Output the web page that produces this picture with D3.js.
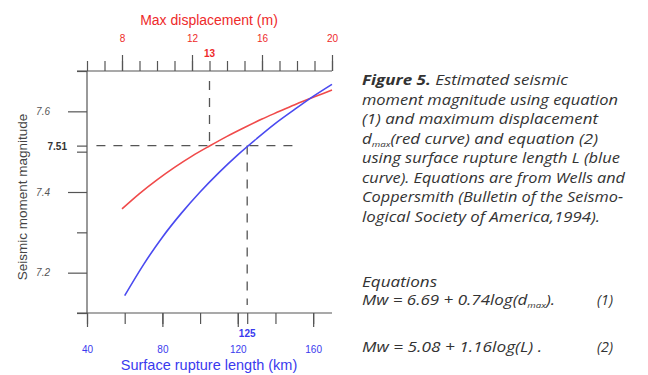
<!DOCTYPE html>
<html>
<head>
<meta charset="utf-8">
<script src="https://cdn.jsdelivr.net/npm/d3@7"></script>
<style>
  body { margin: 0; background: #fff; }
  svg { display: block; }
  .axis path, .axis line { stroke: #555; stroke-width: 1.2; }
  .axis text { font-family: "Liberation Sans", Arial, sans-serif; }
</style>
</head>
<body>
<svg id="chart" width="648" height="375"></svg>
<script>
// red curve: max displacement d (m) -> Mw
const dispValues = [8, 9, 10, 11, 12, 13, 14, 15, 16, 17, 18, 19, 20];
const dispMw = [7.358, 7.396, 7.430, 7.461, 7.489, 7.514, 7.538, 7.560, 7.581, 7.600, 7.619, 7.636, 7.653];

// blue curve: surface rupture length L (km) -> Mw
const lengthValues = [60, 70, 80, 90, 100, 110, 120, 130, 140, 150, 160, 170];
const lengthMw = [7.143, 7.220, 7.288, 7.347, 7.400, 7.448, 7.492, 7.532, 7.570, 7.604, 7.637, 7.667];

// ticks
const topTicks = [6, 7, 8, 9, 10, 11, 12, 13, 14, 15, 16, 17, 18, 19, 20];
const topLabels = [8, 12, 16, 20];
const bottomTicks = [40, 60, 80, 100, 120, 140, 160];
const bottomLabels = [40, 80, 120, 160];
const yMinorTicks = [7.1, 7.3, 7.5, 7.7];
const yMajorTicks = [7.2, 7.4, 7.6];

// reference read-off
const refMw = 7.515;
const refDisp = 13;
const refLength = 125;

const captionLines = [
  { parts: [["Figure 5.", "bold"], [" Estimated seismic", "normal"]], len: 206 },
  { parts: [["moment magnitude using equation", "normal"]], len: 256 },
  { parts: [["(1) and maximum displacement", "normal"]], len: 236 },
  { parts: [["d", "normal"], ["max", "sub"], ["(red curve) and equation (2)", "normal"]], len: 236 },
  { parts: [["using surface rupture length L (blue", "normal"]], len: 258 },
  { parts: [["curve). Equations are from Wells and", "normal"]], len: 263 },
  { parts: [["Coppersmith (Bulletin of the Seismo-", "normal"]], len: 261 },
  { parts: [["logical Society of America,1994).", "normal"]], len: 238 }
];

const svg = d3.select("#chart");

const plotL = 87, plotR = 332, plotT = 71, plotB = 313;

const xL = d3.scaleLinear().domain([40, 170]).range([plotL, plotR]);
const xD = d3.scaleLinear().domain([6, 20]).range([plotL, plotR]);
const y = d3.scaleLinear().domain([7.1, 7.7]).range([plotB, plotT]);

// top axis (max displacement, red)
const topMinor = svg.append("g").attr("class", "axis")
  .attr("transform", `translate(0,${plotT})`)
  .call(d3.axisTop(xD).tickValues(topTicks).tickSize(10).tickFormat(""));
topMinor.select(".domain").attr("d", `M${plotL - 10},0H${plotR}`);

svg.append("g").attr("class", "axis")
  .attr("transform", `translate(0,${plotT})`)
  .call(d3.axisTop(xD).tickValues(topLabels).tickSize(16).tickPadding(13).tickFormat(d3.format("d")))
  .call(g => g.select(".domain").remove())
  .call(g => g.selectAll("text").attr("fill", "#ee2a2a").attr("font-size", 10));

// bottom axis (rupture length, blue)
const botMinor = svg.append("g").attr("class", "axis")
  .attr("transform", `translate(0,${plotB})`)
  .call(d3.axisBottom(xL).tickValues(bottomTicks.concat([refLength])).tickSize(11).tickFormat(""));
botMinor.select(".domain").attr("d", `M${plotL - 10},0H${plotR}`);

svg.append("g").attr("class", "axis")
  .attr("transform", `translate(0,${plotB})`)
  .call(d3.axisBottom(xL).tickValues(bottomLabels).tickSize(14).tickPadding(19).tickFormat(d3.format("d")))
  .call(g => g.select(".domain").remove())
  .call(g => g.selectAll("text").attr("fill", "#3a3aee").attr("font-size", 10));

// left axis
const yMinor = svg.append("g").attr("class", "axis")
  .attr("transform", `translate(${plotL},0)`)
  .call(d3.axisLeft(y).tickValues(yMinorTicks.concat([refMw])).tickSize(10).tickFormat(""));
yMinor.select(".domain").attr("d", `M0,${plotT}V${plotB}`);

svg.append("g").attr("class", "axis")
  .attr("transform", `translate(${plotL},0)`)
  .call(d3.axisLeft(y).tickValues(yMajorTicks).tickSize(19).tickPadding(18).tickFormat(d3.format(".1f")))
  .call(g => g.select(".domain").remove())
  .call(g => g.selectAll("text").attr("fill", "#555").attr("font-size", 10).attr("font-style", "italic"));

// dashed reference lines
const dash = svg.append("g").attr("stroke", "#555").attr("stroke-width", 1.3)
  .attr("stroke-dasharray", "9,8").attr("fill", "none");
dash.append("line")
  .attr("x1", xL(45)).attr("x2", xL(151))
  .attr("y1", y(refMw)).attr("y2", y(refMw));
dash.append("line")
  .attr("x1", xD(refDisp)).attr("x2", xD(refDisp))
  .attr("y1", y(7.7) + 10).attr("y2", y(refMw));
dash.append("line")
  .attr("x1", xL(refLength)).attr("x2", xL(refLength))
  .attr("y1", y(refMw)).attr("y2", y(7.1) - 8);

// curves
const redLine = d3.line().x(d => xD(d[0])).y(d => y(d[1])).curve(d3.curveMonotoneX);
const blueLine = d3.line().x(d => xL(d[0])).y(d => y(d[1])).curve(d3.curveMonotoneX);

svg.append("path")
  .datum(dispValues.map((d, i) => [d, dispMw[i]]))
  .attr("d", redLine).attr("fill", "none").attr("stroke", "#f04a4a").attr("stroke-width", 1.6);
svg.append("path")
  .datum(lengthValues.map((d, i) => [d, lengthMw[i]]))
  .attr("d", blueLine).attr("fill", "none").attr("stroke", "#4a4af0").attr("stroke-width", 1.6);

// labels
const font = '"Liberation Sans", Arial, sans-serif';
svg.append("text").attr("x", xD(refDisp)).attr("y", 57).attr("text-anchor", "middle")
  .attr("font-family", font).attr("font-size", 10).attr("font-weight", "bold")
  .attr("fill", "#ee2a2a").text(String(refDisp));
svg.append("text").attr("x", xL(refLength)).attr("y", 337).attr("text-anchor", "middle")
  .attr("font-family", font).attr("font-size", 10).attr("font-weight", "bold")
  .attr("fill", "#3a3aee").text(String(refLength));
svg.append("text").attr("x", 67).attr("y", y(refMw) + 4).attr("text-anchor", "end")
  .attr("font-family", font).attr("font-size", 10).attr("font-weight", "bold")
  .attr("fill", "#333").text("7.51");

svg.append("text").attr("x", 209).attr("y", 25).attr("text-anchor", "middle")
  .attr("font-family", font).attr("font-size", 14).attr("fill", "#ee2a2a")
  .text("Max displacement (m)");
svg.append("text").attr("x", 209).attr("y", 370).attr("text-anchor", "middle")
  .attr("font-family", font).attr("font-size", 14.5).attr("fill", "#3a3aee")
  .text("Surface rupture length (km)");
svg.append("text").attr("transform", "translate(27,197) rotate(-90)").attr("text-anchor", "middle")
  .attr("font-family", font).attr("font-size", 13.5).attr("fill", "#444")
  .text("Seismic moment magnitude");

// caption
const capFont = '"Open Sans", "Noto Sans", sans-serif';
const cap = svg.append("g").attr("font-family", capFont).attr("font-style", "italic")
  .attr("font-size", 14).attr("fill", "#333");

function addLine(parent, parts, x, yy, len) {
  const t = parent.append("text").attr("x", x).attr("y", yy);
  if (len) t.attr("textLength", len).attr("lengthAdjust", "spacingAndGlyphs");
  parts.forEach(([s, kind]) => {
    const ts = t.append("tspan").text(s);
    if (kind === "bold") ts.attr("font-weight", "bold");
    if (kind === "sub") ts.attr("font-size", 8).attr("dy", 3);
    if (kind === "after") ts.attr("dy", -3);
  });
  return t;
}

captionLines.forEach((ln, i) => {
  const parts = ln.parts.map((p, j) => (j > 0 && ln.parts[j - 1][1] === "sub") ? [p[0], "after"] : p);
  addLine(cap, parts, 362, 85 + i * 19.5, ln.len);
});

addLine(cap, [["Equations", "normal"]], 362, 287, 75);
addLine(cap, [["Mw = 6.69 + 0.74log(d", "normal"], ["max", "sub"], [").", "after"]], 362, 305, 193);
addLine(cap, [["(1)", "normal"]], 597, 305, 16);
addLine(cap, [["Mw = 5.08 + 1.16log(L) .", "normal"]], 362, 352, 180);
addLine(cap, [["(2)", "normal"]], 597, 352, 16);
</script>
</body>
</html>
